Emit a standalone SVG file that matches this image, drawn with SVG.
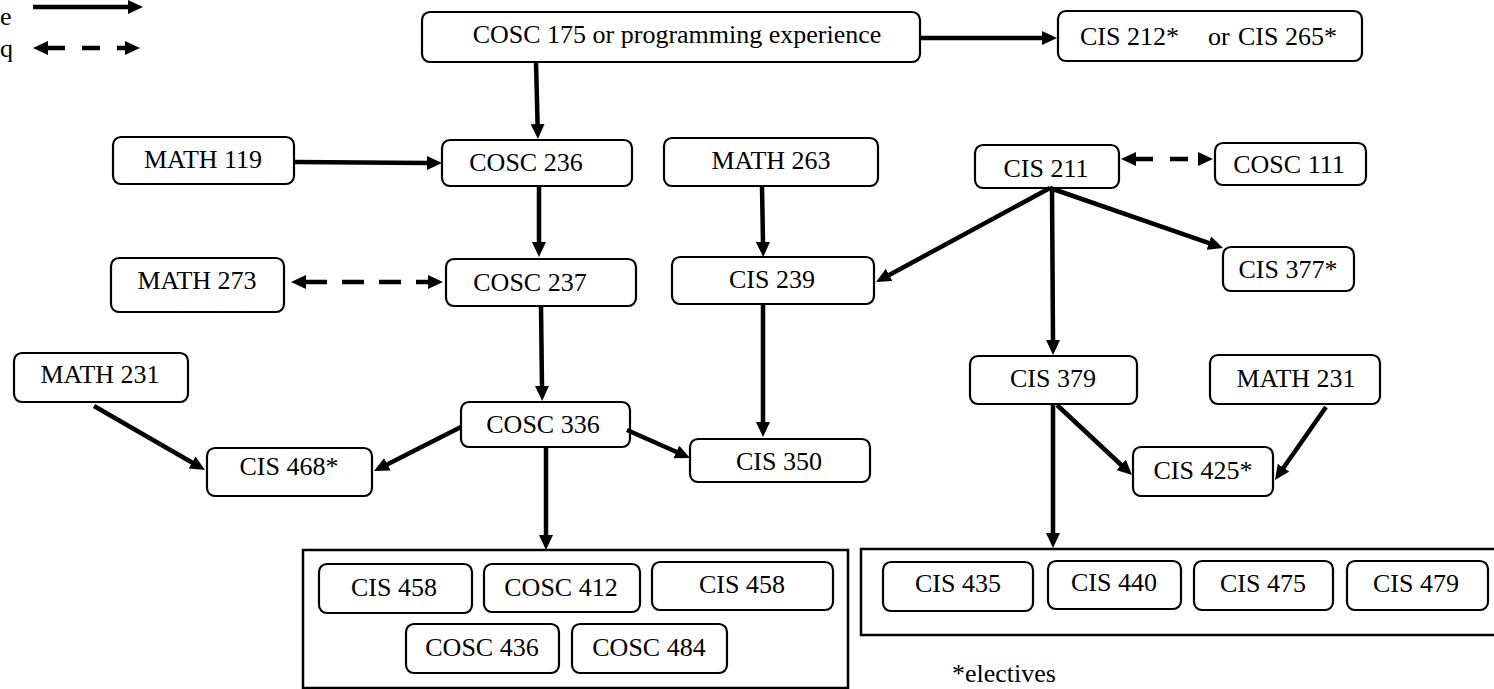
<svg xmlns="http://www.w3.org/2000/svg" width="1494" height="689" viewBox="0 0 1494 689">
<style>
.n{fill:#fff;stroke:#000;stroke-width:2.2}
.g{fill:none;stroke:#000;stroke-width:2.5}
.t{font-family:"Liberation Serif","Times New Roman",serif;font-size:26px;fill:#000;text-anchor:middle}
.s{text-anchor:start}
.c{fill:none;stroke:#000;stroke-width:4.5}
.d{fill:none;stroke:#000;stroke-width:4.5}
</style>
<defs>
<marker id="ah" markerUnits="userSpaceOnUse" markerWidth="16" markerHeight="14" refX="1" refY="7" orient="auto-start-reverse">
<path d="M0,0 L15,7 L0,14 z" fill="#000"/>
</marker>
</defs>
<rect width="1494" height="689" fill="#fff"/>

<g id="legend">
<text class="t s" x="0" y="25">e</text>
<text class="t s" x="0" y="57">q</text>
<line class="c" x1="33" y1="7" x2="129" y2="7" marker-end="url(#ah)"/>
<line class="d" x1="47" y1="48" x2="126" y2="48" stroke-dasharray="18 17" marker-start="url(#ah)" marker-end="url(#ah)"/>
</g>

<g id="groupL"><rect class="g" x="303" y="550" width="545" height="138"/></g>
<g id="groupR"><rect class="g" x="861" y="549" width="640" height="86"/></g>

<g id="cosc175"><rect class="n" x="422" y="12" width="498" height="50" rx="8"/><text class="t" x="677" y="43">COSC 175 or programming experience</text></g>
<g id="cis212"><rect class="n" x="1058" y="11" width="304" height="50" rx="8"/><text class="t s" x="1080" y="45">CIS 212*</text><text class="t s" x="1208" y="45">or</text><text class="t s" x="1238" y="45">CIS 265*</text></g>
<g id="math119"><rect class="n" x="113" y="137" width="181" height="47" rx="8"/><text class="t" x="203" y="168">MATH 119</text></g>
<g id="cosc236"><rect class="n" x="442" y="140" width="190" height="46" rx="8"/><text class="t" x="526" y="171">COSC 236</text></g>
<g id="math263"><rect class="n" x="664" y="138" width="214" height="48" rx="8"/><text class="t" x="771" y="169">MATH 263</text></g>
<g id="cis211"><rect class="n" x="975" y="145" width="144" height="43" rx="8"/><text class="t" x="1046" y="177">CIS 211</text></g>
<g id="cosc111"><rect class="n" x="1215" y="143" width="151" height="42" rx="8"/><text class="t" x="1289" y="173">COSC 111</text></g>
<g id="math273"><rect class="n" x="111" y="258" width="173" height="54" rx="8"/><text class="t" x="197" y="289">MATH 273</text></g>
<g id="cosc237"><rect class="n" x="446" y="259" width="190" height="47" rx="8"/><text class="t" x="530" y="291">COSC 237</text></g>
<g id="cis239"><rect class="n" x="672" y="257" width="202" height="47" rx="8"/><text class="t" x="772" y="288">CIS 239</text></g>
<g id="cis377"><rect class="n" x="1223" y="247" width="131" height="44" rx="8"/><text class="t" x="1288" y="278">CIS 377*</text></g>
<g id="math231a"><rect class="n" x="14" y="353" width="174" height="49" rx="8"/><text class="t" x="100" y="383">MATH 231</text></g>
<g id="cosc336"><rect class="n" x="461" y="402" width="169" height="45" rx="8"/><text class="t" x="543" y="433">COSC 336</text></g>
<g id="cis468"><rect class="n" x="207" y="448" width="165" height="48" rx="8"/><text class="t" x="289" y="475">CIS 468*</text></g>
<g id="cis350"><rect class="n" x="690" y="439" width="180" height="43" rx="8"/><text class="t" x="779" y="470">CIS 350</text></g>
<g id="cis379"><rect class="n" x="970" y="356" width="167" height="48" rx="8"/><text class="t" x="1053" y="387">CIS 379</text></g>
<g id="math231b"><rect class="n" x="1210" y="355" width="170" height="49" rx="8"/><text class="t" x="1296" y="387">MATH 231</text></g>
<g id="cis425"><rect class="n" x="1133" y="447" width="140" height="49" rx="8"/><text class="t" x="1203" y="479">CIS 425*</text></g>

<g id="cis458a"><rect class="n" x="319" y="564" width="153" height="49" rx="8"/><text class="t" x="394" y="596">CIS 458</text></g>
<g id="cosc412"><rect class="n" x="484" y="564" width="156" height="48" rx="8"/><text class="t" x="561" y="596">COSC 412</text></g>
<g id="cis458b"><rect class="n" x="652" y="562" width="181" height="48" rx="8"/><text class="t" x="742" y="593">CIS 458</text></g>
<g id="cosc436"><rect class="n" x="406" y="624" width="153" height="49" rx="8"/><text class="t" x="482" y="656">COSC 436</text></g>
<g id="cosc484"><rect class="n" x="572" y="624" width="155" height="49" rx="8"/><text class="t" x="649" y="656">COSC 484</text></g>

<g id="cis435"><rect class="n" x="883" y="562" width="150" height="49" rx="8"/><text class="t" x="958" y="592">CIS 435</text></g>
<g id="cis440"><rect class="n" x="1048" y="561" width="133" height="48" rx="8"/><text class="t" x="1114" y="591">CIS 440</text></g>
<g id="cis475"><rect class="n" x="1194" y="561" width="139" height="49" rx="8"/><text class="t" x="1263" y="592">CIS 475</text></g>
<g id="cis479"><rect class="n" x="1347" y="561" width="141" height="49" rx="8"/><text class="t" x="1416" y="592">CIS 479</text></g>

<g id="note"><text class="t s" x="952" y="682">*electives</text></g>

<g id="connectors">
<line class="c" x1="920" y1="38" x2="1043" y2="38" marker-end="url(#ah)"/>
<line class="c" x1="536" y1="62" x2="537.6" y2="125" marker-end="url(#ah)"/>
<line class="c" x1="294" y1="162" x2="428" y2="163" marker-end="url(#ah)"/>
<line class="c" x1="539" y1="186" x2="539" y2="243" marker-end="url(#ah)"/>
<line class="c" x1="762" y1="186" x2="763" y2="243" marker-end="url(#ah)"/>
<line class="c" x1="1050" y1="188" x2="888.3" y2="275.4" marker-end="url(#ah)"/>
<line class="c" x1="1050" y1="188" x2="1209.8" y2="243.4" marker-end="url(#ah)"/>
<line class="c" x1="1052" y1="188" x2="1053" y2="341" marker-end="url(#ah)"/>
<line class="c" x1="541" y1="306" x2="542" y2="387" marker-end="url(#ah)"/>
<line class="c" x1="763" y1="304" x2="763" y2="423" marker-end="url(#ah)"/>
<line class="c" x1="94" y1="406" x2="192.9" y2="463" marker-end="url(#ah)"/>
<line class="c" x1="461" y1="427" x2="386.5" y2="464.7" marker-end="url(#ah)"/>
<line class="c" x1="627" y1="430" x2="677.2" y2="452.3" marker-end="url(#ah)"/>
<line class="c" x1="546" y1="447" x2="546" y2="536" marker-end="url(#ah)"/>
<line class="c" x1="1057" y1="405" x2="1121.8" y2="465.5" marker-end="url(#ah)"/>
<line class="c" x1="1326" y1="407" x2="1283" y2="468.5" marker-end="url(#ah)"/>
<line class="c" x1="1053" y1="404" x2="1053" y2="534" marker-end="url(#ah)"/>
<line class="d" x1="305" y1="282" x2="429" y2="282" stroke-dasharray="22 15" marker-start="url(#ah)" marker-end="url(#ah)"/>
<line class="d" x1="1135" y1="159" x2="1199" y2="159" stroke-dasharray="18 17" marker-start="url(#ah)" marker-end="url(#ah)"/>
</g>
</svg>
